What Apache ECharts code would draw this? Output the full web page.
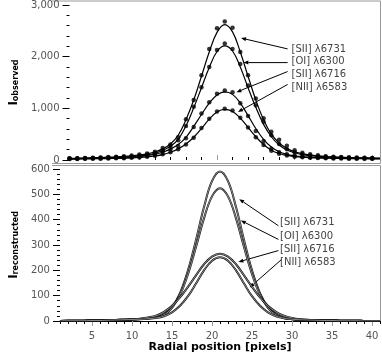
<!DOCTYPE html>
<html>
<head>
<meta charset="utf-8">
<script src="https://cdn.jsdelivr.net/npm/echarts@6/dist/echarts.min.js"></script>
<style>
  html, body { margin: 0; padding: 0; background: #fff; }
  #chart { width: 382px; height: 354px; }
</style>
</head>
<body>
<div id="chart"></div>
<script>
// radial positions (pixels)
const xObs = [1,2,3,4,5,6,7,8,9,10,11,12,13,14,15,16,17,18,19,20,21,22,23,24,25,26,27,28,29,30,31,32,33,34,35,36,37,38,39,40]
const xFit = [1,2,3,4,5,6,7,8,9,10,11,12,13,14,15,16,17,18,19,20,21,22,23,24,25,26,27,28,29,30,31,32,33,34,35,36,37,38,39,40,41]

const lineNames = ['[SII] λ6731', '[OI] λ6300', '[SII] λ6716', '[NII] λ6583']

// observed intensities (dots)
const obsSII6731 = [32,36,40,45,50,56,63,72,85,105, 125,160,230,300,440,790,1160,1640,2150,2550, 2680,2560,2090,1640,1190,810,545,390,275,190, 140,110,90,75,65,58,52,47,43,40]
const obsOI6300  = [28,31,34,38,42,47,53,60,70,85, 105,135,190,270,380,660,1030,1410,1800,2130, 2256,2150,1860,1440,1060,740,480,310,210,150, 110,88,72,62,55,49,44,40,37,34]
const obsSII6716 = [25,27,30,33,36,40,44,50,58,70, 88,115,160,210,270,420,640,900,1120,1280, 1346,1310,1100,850,560,370,220,150,110,85, 68,57,50,45,41,38,35,33,31,29]
const obsNII6583 = [18,20,22,24,26,29,32,36,42,50, 62,80,110,150,210,300,430,620,800,940, 994,960,820,630,440,290,180,120,85,64, 52,44,38,34,31,28,26,24,23,22]

// fitted profiles (lines, top panel)
const fitSII6731 = [30,34,38,43,48,54,61,70,82,98, 120,155,215,310,480,780,1160,1620,2090,2470, 2620,2480,2090,1620,1160,780,500,330,225,160, 122,96,80,68,60,53,48,44,41,38,36]
const fitOI6300  = [26,29,32,36,40,45,51,58,68,82, 100,130,185,265,400,660,1010,1400,1790,2100, 2210,2110,1800,1400,1020,690,450,290,195,140, 105,84,70,60,53,47,43,39,36,34,32]
const fitSII6716 = [24,26,29,32,35,39,43,49,57,68, 85,110,150,210,300,440,650,880,1100,1260, 1320,1270,1100,860,610,400,250,160,110,82, 65,55,48,43,39,36,34,32,30,28,27]
const fitNII6583 = [17,19,21,23,25,28,31,35,41,49, 60,78,105,150,215,310,440,610,790,930, 980,940,810,630,450,300,190,125,88,66, 53,45,39,35,32,29,27,25,24,23,22]

// reconstructed profiles (bottom panel)
const recSII6731 = [0,1,1,1,2,2,3,4,5,6, 8,11,15,26,55,110,200,320,450,552, 590,552,450,320,200,110,55,26,13,8, 5,4,3,2,2,1,1,1,0,0,0]
const recOI6300  = [0,1,1,1,2,2,3,4,5,6, 8,10,14,24,52,103,185,292,405,492, 524,492,405,292,185,103,52,24,12,7, 5,4,3,2,2,1,1,1,0,0,0]
const recSII6716 = [0,1,1,1,2,2,3,4,5,7, 9,14,21,36,60,93,135,180,224,254, 265,254,224,180,135,93,60,36,21,12, 7,5,3,2,2,1,1,1,0,0,0]
const recNII6583 = [0,1,1,1,2,2,3,4,5,6, 7,9,12,19,34,60,98,148,200,238, 252,238,200,148,98,60,34,19,11,7, 5,4,3,2,2,1,1,1,0,0,0]

// tick labels
const xTickLabels = [5,10,15,20,25,30,35,40]
const xMinorTop = [2,4,6,8,10,12,14,16,18,20,22,24,26,28,30,32,34,36,38,40]
const xMajorTop = [10,20,30,40]

const obsSets = [obsSII6731, obsOI6300, obsSII6716, obsNII6583]
const fitSets = [fitSII6731, fitOI6300, fitSII6716, fitNII6583]
const recSets = [recSII6731, recOI6300, recSII6716, recNII6583]

const zip = (xs, ys) => ys.map((v, i) => [xs[i], v])

const FONT = 'DejaVu Sans'
const GRAY = '#555'

const chart = echarts.init(document.getElementById('chart'))

const series = []
fitSets.forEach((d, i) => {
  series.push({
    name: lineNames[i] + ' fit', type: 'line', xAxisIndex: 1, yAxisIndex: 0,
    data: zip(xFit, d), smooth: 0.4, showSymbol: false, silent: true,
    lineStyle: { color: '#000', width: 1.2 },
  })
})
obsSets.forEach((d, i) => {
  series.push({
    name: lineNames[i], type: 'scatter', xAxisIndex: 1, yAxisIndex: 0,
    data: zip(xObs, d), symbolSize: 4.5, silent: true,
    itemStyle: { color: '#000' },
  })
})
// reconstructed curves: dark outline with a thin light core
recSets.forEach((d, i) => {
  series.push({
    name: lineNames[i] + ' rec', type: 'line', xAxisIndex: 3, yAxisIndex: 1,
    data: zip(xFit, d), smooth: 0.4, showSymbol: false, silent: true,
    lineStyle: { color: '#111', width: 2.0 },
  })
  series.push({
    name: lineNames[i] + ' rec inner', type: 'line', xAxisIndex: 3, yAxisIndex: 1,
    data: zip(xFit, d), smooth: 0.4, showSymbol: false, silent: true,
    lineStyle: { color: '#ddd', width: 0.6 },
  })
})

const yName = (sub) => ({
  name: '{i|I}{s|' + sub + '}',
  nameLocation: 'middle',
  nameRotate: 90,
  nameTextStyle: {
    rich: {
      i: { fontFamily: FONT, fontWeight: 'bold', fontSize: 12, color: '#000', verticalAlign: 'bottom' },
      s: { fontFamily: FONT, fontWeight: 'bold', fontSize: 8, color: '#000', verticalAlign: 'bottom' },
    },
  },
})

chart.setOption({
  animation: false,
  grid: [
    { left: 52, right: 2, top: 4, height: 156 },
    { left: 52, right: 2, top: 169, height: 153 },
  ],
  xAxis: [
    { gridIndex: 0, position: 'bottom', type: 'value', min: 1, max: 41, axisLine: { show: false },
      axisTick: { inside: true, length: 3, customValues: xMinorTop, lineStyle: { color: '#000' } },
      axisLabel: { show: false, customValues: xMinorTop }, splitLine: { show: false } },
    { gridIndex: 0, position: 'bottom', type: 'value', min: 1, max: 41, axisLine: { show: false },
      axisTick: { inside: true, length: 5, customValues: xMajorTop, lineStyle: { color: '#999' } },
      axisLabel: { show: false, customValues: xMajorTop }, splitLine: { show: false } },
    { gridIndex: 1, position: 'bottom', type: 'value', min: 1, max: 41, interval: 1,
      axisLine: { show: true, lineStyle: { color: '#000', width: 1 } },
      axisTick: { length: 3, lineStyle: { color: '#000' } },
      axisLabel: { show: false }, splitLine: { show: false } },
    { gridIndex: 1, position: 'bottom', type: 'value', min: 1, max: 41, axisLine: { show: false },
      axisTick: { length: 5, customValues: xTickLabels, lineStyle: { color: '#999' } },
      axisLabel: { customValues: xTickLabels, fontFamily: FONT, fontSize: 10, color: GRAY, margin: 10 },
      splitLine: { show: false },
      name: 'Radial position [pixels]', nameLocation: 'middle', nameGap: 21,
      nameTextStyle: { fontFamily: FONT, fontWeight: 'bold', fontSize: 11, color: '#000' } },
  ],
  yAxis: [
    Object.assign({ gridIndex: 0, type: 'value', min: 0, max: 3000, interval: 1000,
      axisLine: { show: false },
      axisTick: { show: true, length: 7, lineStyle: { color: '#000' } },
      minorTick: { show: true, splitNumber: 5, length: 3, lineStyle: { color: '#000' } },
      axisLabel: { fontFamily: FONT, fontSize: 10, color: GRAY, margin: 10,
        formatter: (v) => v.toLocaleString('en-US') },
      splitLine: { show: false }, nameGap: 45 }, yName('observed')),
    Object.assign({ gridIndex: 1, type: 'value', min: 0, max: 600, interval: 100,
      axisLine: { show: false },
      axisTick: { show: true, length: 7, lineStyle: { color: '#000' } },
      minorTick: { show: true, splitNumber: 5, length: 3, lineStyle: { color: '#000' } },
      axisLabel: { fontFamily: FONT, fontSize: 10, color: GRAY, margin: 10 },
      splitLine: { show: false }, nameGap: 34 }, yName('reconstructed')),
  ],
  series: series,
})

// annotation arrows: tail, tip and label anchor in data units
const topNotes = [
  { tail: [29.1, 2150], tip: [23.1, 2360], text: [29.6, 2135] },
  { tail: [29.1, 1885], tip: [23.4, 1885], text: [29.6, 1904] },
  { tail: [29.1, 1712], tip: [22.5, 1313], text: [29.6, 1654] },
  { tail: [29.1, 1462], tip: [22.7, 929], text: [29.6, 1404] },
]
const botNotes = [
  { tail: [28.3, 376], tip: [23.4, 481], text: [28.5, 388] },
  { tail: [28.3, 322], tip: [23.6, 397], text: [28.5, 333] },
  { tail: [28.3, 278], tip: [23.3, 233], text: [28.5, 282] },
  { tail: [28.7, 243], tip: [24.7, 132], text: [28.5, 231] },
]

function buildNotes(notes, finder) {
  const els = []
  notes.forEach((n, i) => {
    const a = chart.convertToPixel(finder, n.tail)
    const b = chart.convertToPixel(finder, n.tip)
    const t = chart.convertToPixel(finder, n.text)
    const dx = b[0] - a[0], dy = b[1] - a[1]
    const len = Math.sqrt(dx * dx + dy * dy)
    const ux = dx / len, uy = dy / len
    const hl = 5, hw = 2
    const bx = b[0] - ux * hl, by = b[1] - uy * hl
    els.push({ type: 'line', shape: { x1: a[0], y1: a[1], x2: bx, y2: by },
      style: { stroke: '#000', lineWidth: 1 }, silent: true })
    els.push({ type: 'polygon', shape: { points: [[b[0], b[1]], [bx - uy * hw, by + ux * hw], [bx + uy * hw, by - ux * hw]] },
      style: { fill: '#000' }, silent: true })
    els.push({ type: 'text', x: t[0], y: t[1], silent: true,
      style: { text: lineNames[i], font: '10px "' + FONT + '"', fill: '#444', verticalAlign: 'middle', align: 'left' } })
  })
  return els
}

const frame = [
  { type: 'polyline', shape: { points: [[52, 1], [380.5, 1], [380.5, 163.5], [52, 163.5]] },
    style: { stroke: '#999', lineWidth: 1, fill: null }, silent: true },
  { type: 'polyline', shape: { points: [[52, 165.5], [380.5, 165.5], [380.5, 322]] },
    style: { stroke: '#999', lineWidth: 1, fill: null }, silent: true },
]

chart.setOption({
  graphic: frame
    .concat(buildNotes(topNotes, { xAxisIndex: 1, yAxisIndex: 0 }))
    .concat(buildNotes(botNotes, { xAxisIndex: 3, yAxisIndex: 1 })),
})
</script>
</body>
</html>
